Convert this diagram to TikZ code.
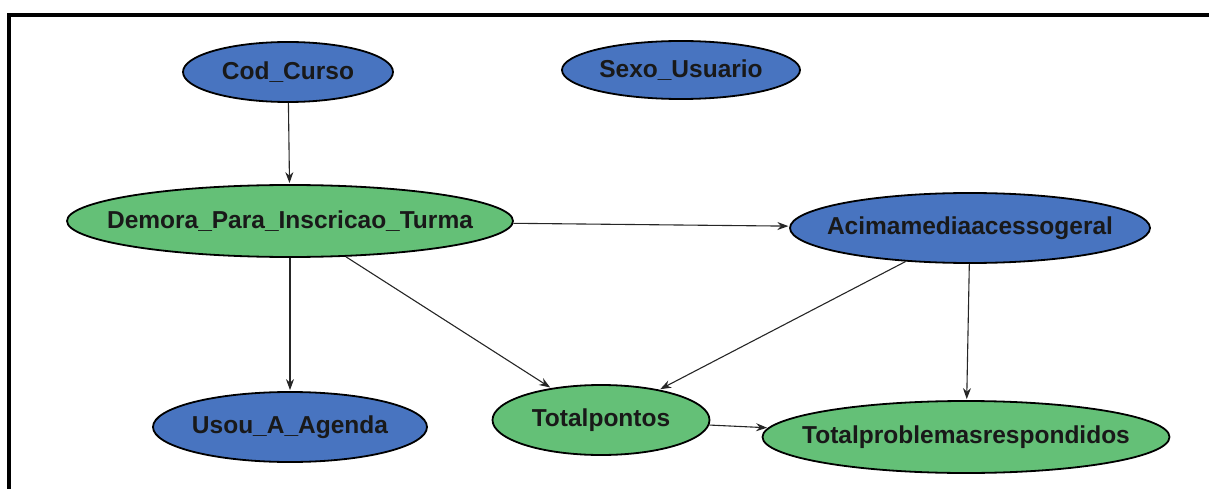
\documentclass[tikz,border=0pt]{standalone}
\usepackage{fontspec}
\setmainfont{Liberation Sans}
\usetikzlibrary{shapes.geometric,arrows.meta}
\definecolor{varblue}{HTML}{4874C0}
\definecolor{vargreen}{HTML}{64C077}
% zero-width label box, so the ellipse keeps its given size
\newcommand{\vlabel}[1]{\makebox[0pt]{#1}}
\tikzset{
  var/.style={ellipse, draw=black, line width=1.8pt, inner sep=0pt,
    font=\fontsize{24.5}{29}\selectfont\bfseries, text=black!90},
  bluevar/.style={var, fill=varblue},
  greenvar/.style={var, fill=vargreen},
  link/.style={draw=black!85, line width=1.1pt,
    -{Stealth[length=11pt,width=8pt]}, shorten >=1pt}
}
\begin{document}
\begin{tikzpicture}[x=1pt,y=-1pt]
  \useasboundingbox (0,0) rectangle (1209,489);
  % frame
  \draw[line width=4pt] (8.5,489) -- (8.5,15) -- (1209,15);

  % variables
  \node[bluevar, minimum width=210pt, minimum height=60pt] (cod) at (288,72) {\vlabel{Cod\_Curso}};
  \node[bluevar, minimum width=238pt, minimum height=58pt] (sexo) at (681,70) {\vlabel{Sexo\_Usuario}};
  \node[greenvar, minimum width=446pt, minimum height=72pt] (demora) at (290,221) {\vlabel{Demora\_Para\_Inscricao\_Turma}};
  \node[bluevar, minimum width=360pt, minimum height=70pt] (acima) at (970,228) {\vlabel{Acimamediaacessogeral}};
  \node[bluevar, minimum width=274pt, minimum height=70pt] (usou) at (290,427) {\vlabel{Usou\_A\_Agenda}};
  \node[greenvar, minimum width=217pt, minimum height=70pt] (pontos) at (601,420) {\vlabel{Totalpontos}};
  \node[greenvar, minimum width=407pt, minimum height=72pt] (problemas) at (966,437) {\vlabel{Totalproblemasrespondidos}};

  % dependencies
  \draw[link] (cod) -- (demora);
  \draw[link] (demora) -- (acima);
  \draw[link] (demora) -- (usou);
  \draw[link] (demora) -- (pontos);
  \draw[link] (acima) -- (pontos);
  \draw[link] (acima) -- (problemas);
  \draw[link] (pontos) -- (problemas);
\end{tikzpicture}
\end{document}
